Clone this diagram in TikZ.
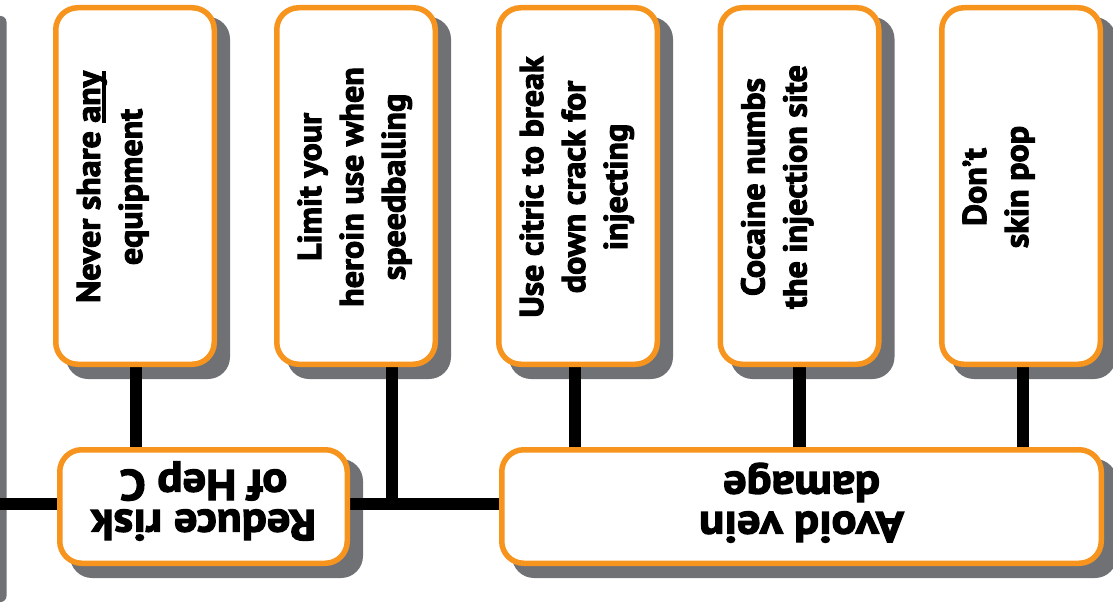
\documentclass[tikz,border=0pt]{standalone}
\usepackage{fontspec}
\newfontfamily\tipfont{PT Sans}[FakeStretch=1.03, BoldFeatures={FakeBold=3}]
\newfontfamily\goalfont{PT Sans}[FakeStretch=1.08, BoldFeatures={FakeBold=3}]
\definecolor{boxorange}{RGB}{247,148,30}
\definecolor{shadowgray}{RGB}{112,113,117}
\pgfdeclarelayer{shade}
\pgfdeclarelayer{links}
\pgfsetlayers{shade,links,main}
% thick underline for emphasised words
\newcommand\thickul[1]{\setbox0\hbox{#1}\rlap{\rule[-6.4pt]{\wd0}{4pt}}\box0}

\begin{document}
\begin{tikzpicture}[x=1pt,y=-1pt,
  card/.style={draw=boxorange, line width=5.5pt, fill=white, rounded corners=22pt, inner sep=0pt},
  tipcard/.style={card, minimum width=158.5pt, minimum height=356.5pt},
  goalcard/.style={card, minimum height=113.5pt},
  tiptext/.style={font=\tipfont\bfseries\fontsize{33}{42}\selectfont, align=center, rotate=90, anchor=base, inner sep=0pt},
  goaltext/.style={font=\goalfont\bfseries\fontsize{43}{40}\selectfont, align=center, rotate=180, anchor=base, inner sep=0pt},
  link/.style={line width=12.5pt},
  shadowfill/.style={fill=shadowgray, rounded corners=22pt}]
\useasboundingbox (0,0) rectangle (1113,615);

% tip cards along the top
\node[tipcard] (b1) at (135,186) {};
\node[tipcard] (b2) at (356,186) {};
\node[tipcard] (b3) at (578,186) {};
\node[tipcard] (b4) at (799.5,186) {};
\node[tipcard] (b5) at (1021,186) {};
% goal cards along the bottom
\node[goalcard, minimum width=287.5pt] (r) at (203.5,506.5) {};
\node[goalcard, minimum width=599.5pt] (av) at (801.5,506.5) {};

% card texts (the base anchor sits on the last line)
\node[tiptext] at ([shift={(7pt,-1pt)}]b1.center) {Never share \thickul{any}\\equipment};
\node[tiptext] at ([shift={(49pt,-1pt)}]b2.center) {Limit your\\heroin use when\\speedballing};
\node[tiptext] at ([shift={(49pt,-1pt)}]b3.center) {Use citric to break\\down crack for\\injecting};
\node[tiptext] at ([shift={(7pt,-1pt)}]b4.center) {Cocaine numbs\\the injection site};
\node[tiptext] at ([shift={(7pt,-1pt)}]b5.center) {Don’t\\skin pop};
\node[goaltext] at ([yshift=36.5pt]r.center) {Reduce risk\\of Hep C};
\node[goaltext] at ([yshift=34.5pt]av.center) {Avoid vein\\damage};

% connectors
\coordinate (hl) at (0,504);
\coordinate (j) at (392,504);
\begin{pgfonlayer}{links}
\draw[link] (hl) -- (hl -| r.west);
\draw[link] (r.east |- j) -- (av.west |- j);
\draw[link] ([xshift=1pt]b1.south) -- ([xshift=1pt]b1.south |- r.north);
\draw[link] (b2.south -| j) -- (j);
\draw[link] ([xshift=-3pt]b3.south) -- ([xshift=-3pt]b3.south |- av.north);
\draw[link] (b4.south) -- (b4.south |- av.north);
\draw[link] ([xshift=2pt]b5.south) -- ([xshift=2pt]b5.south |- av.north);
\end{pgfonlayer}

% drop shadows
\begin{pgfonlayer}{shade}
\foreach \n in {b1,b2,b3,b4,b5,r,av}
  \fill[shadowfill] ([shift={(13pt,-12pt)}]\n.south west) rectangle ([shift={(13pt,-12pt)}]\n.north east);
\fill[shadowgray, rounded corners=6pt] (-30,16) rectangle (6.5,602);
\end{pgfonlayer}
\end{tikzpicture}
\end{document}
